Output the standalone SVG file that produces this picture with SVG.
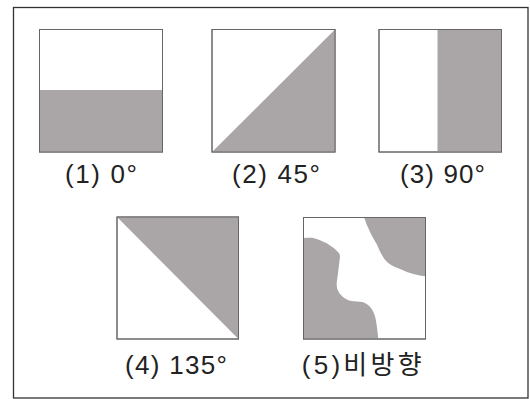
<svg xmlns="http://www.w3.org/2000/svg" width="530" height="399" viewBox="0 0 530 399">
<style>
.frame{fill:#fff;stroke:#333;stroke-width:1.3}
.box{fill:#fff;stroke:#666;stroke-width:1}
.fill{fill:#aaa5a6;stroke:none}
.edge{fill:none;stroke:#666;stroke-width:1}
.lbl{font-family:"Liberation Sans","Noto Sans CJK KR",sans-serif;font-size:26px;fill:#222}
.kr{font-family:"Noto Sans CJK KR","Liberation Sans",sans-serif;font-size:26px}
</style>
<rect x="0" y="0" width="530" height="399" fill="#fff"/>
<rect class="frame" x="13.5" y="7.5" width="514.5" height="390.5"/>
<g id="node1">
<rect class="box" x="39.5" y="29.5" width="123" height="122.5"/>
<rect class="fill" x="40" y="90" width="122" height="61.5"/>
<rect class="edge" x="39.5" y="29.5" width="123" height="122.5"/>
<text class="lbl" x="65" y="183" textLength="72" lengthAdjust="spacing">(1) 0°</text>
</g>
<g id="node2">
<rect class="box" x="212" y="29.5" width="123" height="122.5"/>
<polygon class="fill" points="212,152 335,29.5 335,152"/>
<rect class="edge" x="212" y="29.5" width="123" height="122.5"/>
<text class="lbl" x="232" y="183" textLength="88" lengthAdjust="spacing">(2) 45°</text>
</g>
<g id="node3">
<rect class="box" x="379" y="29.5" width="122.5" height="122.5"/>
<rect class="fill" x="437.5" y="30" width="63.5" height="121.5"/>
<rect class="edge" x="379" y="29.5" width="122.5" height="122.5"/>
<text class="lbl" x="400" y="183" textLength="85" lengthAdjust="spacing">(3) 90°</text>
</g>
<g id="node4">
<rect class="box" x="117" y="217" width="121.5" height="122"/>
<polygon class="fill" points="117,217 238.5,217 238.5,339"/>
<rect class="edge" x="117" y="217" width="121.5" height="122"/>
<text class="lbl" x="125" y="374" textLength="102" lengthAdjust="spacing">(4) 135°</text>
</g>
<g id="node5">
<rect class="box" x="303.5" y="217.5" width="122" height="121.5"/>
<path class="fill" d="M364,217.5 C366,222 366.5,225 368.3,228 C371,235 373.5,238 376.7,244 C380,252 383,258 387.3,262.3 C392,266 396,267.5 400,269 C405,271 409,273 413.3,274 C418,275 422,276 425.5,276.3 L425.5,217.5 Z"/>
<path class="fill" d="M303.5,238 C307,238 310,237.5 313.3,238 C318,239 322,241 326.7,243.3 C331,246 334,248 336.7,250.7 C339,253 340,254 340,256 C339.5,262 338.7,266 338.3,270.7 C337.8,276 336.5,281 336.7,285.7 C337,290 339,293 341.7,295.7 C344,298 347,300 350,300.7 C355,301.5 359,301.5 363.3,302.3 C367,303.5 369.5,306 371.7,309 C374,312.5 375.3,316 376,320.7 C377,327 377.8,333 378.3,339 L303.5,339 Z"/>
<rect class="edge" x="303.5" y="217.5" width="122" height="121.5"/>
<text class="lbl" x="301.7" y="374" textLength="120" lengthAdjust="spacing">(5)<tspan class="kr">비방향</tspan></text>
</g>
</svg>
